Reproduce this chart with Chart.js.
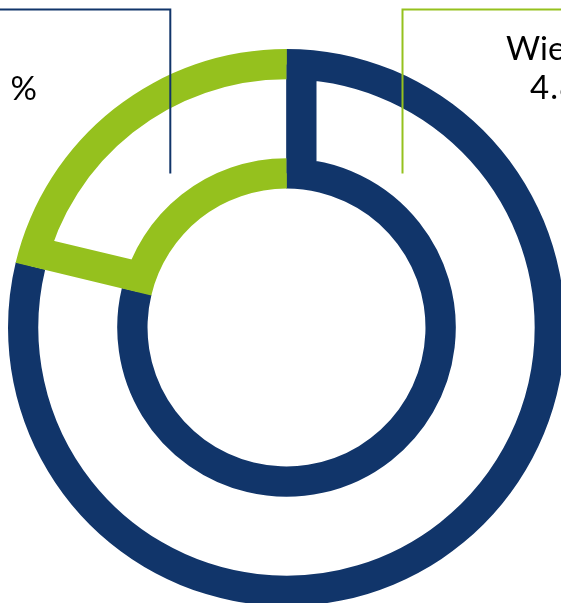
<!DOCTYPE html>
<html><head><meta charset="utf-8">
<script src="https://cdn.jsdelivr.net/npm/chart.js@4"></script>
<style>html,body{margin:0;padding:0;background:#fff;overflow:hidden}
#wrap{position:relative;width:561px;height:603px}</style>
</head><body><div id="wrap"><canvas id="c" width="561" height="603"></canvas></div>
<script>
// ---- data ----
const categories = ['Übriges Österreich', 'Wien'];
const values = [78.75, 21.25];
const colors = ['#11356a', '#95c11e'];
const leftLabel = ['78.8\u2002%'];
const rightLabel = ['Wien', '4.8 %'];

// ---- geometry / style ----
const OUTER_R = 278.5, BW = 30, CUT = 0.499;

function dashFor(c) {
  const d = c.dataset.data;
  const total = d.reduce((a, b) => a + b, 0);
  const alpha = 2 * Math.PI * d[c.dataIndex] / total;
  const Ro = OUTER_R - 0.33, Ri = OUTER_R * CUT + 0.33;
  const radial = Ro - Ri;
  // outer arc on, end edge off, inner arc + start edge on
  return [Ro * alpha + BW / 2, radial - BW, Ri * alpha + radial + BW + 1000, 1];
}

const annot = {
  id: 'annot',
  afterDraw(chart) {
    const g = chart.ctx;
    g.save();
    g.lineWidth = 2;
    g.strokeStyle = colors[0];
    g.beginPath(); g.moveTo(0, 9.5); g.lineTo(170.3, 9.5); g.lineTo(170.3, 173.5); g.stroke();
    g.strokeStyle = colors[1];
    g.beginPath(); g.moveTo(561, 9.5); g.lineTo(402.5, 9.5); g.lineTo(402.5, 173.5); g.stroke();
    g.fillStyle = '#000';
    g.font = '33px Lato';
    g.textBaseline = 'alphabetic';
    g.textAlign = 'right';
    g.fillText(leftLabel[0], 37, 100);
    g.textAlign = 'left';
    g.fillText(rightLabel[0], 506, 60);
    if ('letterSpacing' in g) g.letterSpacing = '1px';
    g.fillText(rightLabel[1], 530, 99);
    g.restore();
  }
};

new Chart(document.getElementById('c'), {
  type: 'doughnut',
  data: {
    labels: categories,
    datasets: [{
      data: values,
      backgroundColor: 'rgba(0,0,0,0)',
      borderColor: colors,
      borderWidth: BW,
      borderAlign: 'inner',
      borderDash: dashFor
    }]
  },
  options: {
    responsive: false,
    animation: false,
    events: [],
    radius: OUTER_R,
    cutout: (CUT * 100) + '%',
    rotation: 0,
    layout: { padding: { left: 12, top: 52, right: 0, bottom: 0 } },
    plugins: { legend: { display: false }, tooltip: { enabled: false } }
  },
  plugins: [annot]
});
</script></body></html>
